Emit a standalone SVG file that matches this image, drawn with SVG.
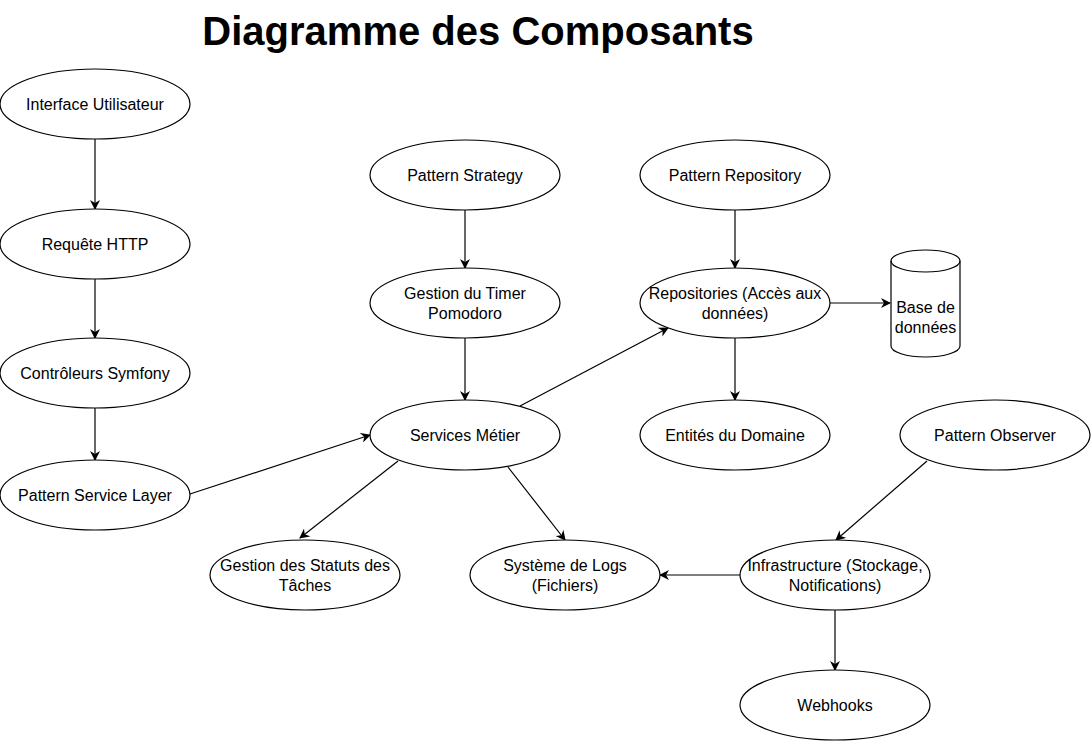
<svg xmlns="http://www.w3.org/2000/svg" width="1091" height="741" viewBox="0 0 1091 741">
<defs>
<marker id="arr" viewBox="0 0 10 10" refX="9" refY="5" markerWidth="10" markerHeight="10" markerUnits="userSpaceOnUse" orient="auto">
<path d="M0,0 L10,5 L0,10 L3,5 Z" fill="#000"/>
</marker>
</defs>
<style>
.n ellipse, .n path { fill:#fff; stroke:#000; stroke-width:1.2; }
.n text { font-family:"Liberation Sans", Arial, sans-serif; font-size:16px; fill:#000; text-anchor:middle; }
#edges line { stroke:#000; stroke-width:1.2; marker-end:url(#arr); }
.title { font-family:"Liberation Sans", Arial, sans-serif; font-size:40px; font-weight:bold; text-anchor:middle; }
</style>
<rect width="1091" height="741" fill="#fff"/>
<text class="title" x="478" y="45">Diagramme des Composants</text>
<g id="edges">
<line x1="95" y1="139" x2="95" y2="209"/>
<line x1="95" y1="279" x2="95" y2="338"/>
<line x1="95" y1="408" x2="95" y2="460"/>
<line x1="465" y1="210" x2="465" y2="268"/>
<line x1="465" y1="338" x2="465" y2="400"/>
<line x1="735" y1="210" x2="735" y2="268"/>
<line x1="735" y1="338" x2="735" y2="400"/>
<line x1="830" y1="303" x2="890" y2="303"/>
<line x1="190" y1="494" x2="370" y2="435"/>
<line x1="520" y1="406" x2="668" y2="328"/>
<line x1="398" y1="461" x2="300" y2="538"/>
<line x1="508" y1="467" x2="565" y2="540"/>
<line x1="927" y1="461" x2="836" y2="540"/>
<line x1="740" y1="575" x2="660" y2="575"/>
<line x1="835" y1="610" x2="835" y2="670"/>
</g>
<g id="n-ui" class="n"><ellipse cx="95" cy="104" rx="95" ry="35"/><text x="95" y="110">Interface Utilisateur</text></g>
<g id="n-http" class="n"><ellipse cx="95" cy="244" rx="95" ry="35"/><text x="95" y="250">Requête HTTP</text></g>
<g id="n-ctrl" class="n"><ellipse cx="95" cy="373" rx="95" ry="35"/><text x="95" y="379">Contrôleurs Symfony</text></g>
<g id="n-psl" class="n"><ellipse cx="95" cy="495" rx="95" ry="35"/><text x="95" y="501">Pattern Service Layer</text></g>
<g id="n-strat" class="n"><ellipse cx="465" cy="175" rx="95" ry="35"/><text x="465" y="181">Pattern Strategy</text></g>
<g id="n-timer" class="n"><ellipse cx="465" cy="303" rx="95" ry="35"/><text x="465" y="299">Gestion du Timer</text><text x="465" y="319">Pomodoro</text></g>
<g id="n-serv" class="n"><ellipse cx="465" cy="435" rx="95" ry="35"/><text x="465" y="441">Services Métier</text></g>
<g id="n-prepo" class="n"><ellipse cx="735" cy="175" rx="95" ry="35"/><text x="735" y="181">Pattern Repository</text></g>
<g id="n-repo" class="n"><ellipse cx="735" cy="303" rx="95" ry="35"/><text x="735" y="299">Repositories (Accès aux</text><text x="735" y="319">données)</text></g>
<g id="n-ent" class="n"><ellipse cx="735" cy="435" rx="95" ry="35"/><text x="735" y="441">Entités du Domaine</text></g>
<g id="n-db" class="n"><path d="M891,261 A34.5,11 0 0 1 960,261 L960,346 A34.5,11 0 0 1 891,346 Z"/><path d="M891,261 A34.5,11 0 0 0 960,261" style="fill:none"/><text x="925.5" y="313">Base de</text><text x="925.5" y="333">données</text></g>
<g id="n-obs" class="n"><ellipse cx="995" cy="435" rx="95" ry="35"/><text x="995" y="441">Pattern Observer</text></g>
<g id="n-stat" class="n"><ellipse cx="305" cy="575" rx="95" ry="35"/><text x="305" y="571">Gestion des Statuts des</text><text x="305" y="591">Tâches</text></g>
<g id="n-logs" class="n"><ellipse cx="565" cy="575" rx="95" ry="35"/><text x="565" y="571">Système de Logs</text><text x="565" y="591">(Fichiers)</text></g>
<g id="n-infra" class="n"><ellipse cx="835" cy="575" rx="95" ry="35"/><text x="835" y="571">Infrastructure (Stockage,</text><text x="835" y="591">Notifications)</text></g>
<g id="n-web" class="n"><ellipse cx="835" cy="705" rx="95" ry="35"/><text x="835" y="711">Webhooks</text></g>
</svg>
